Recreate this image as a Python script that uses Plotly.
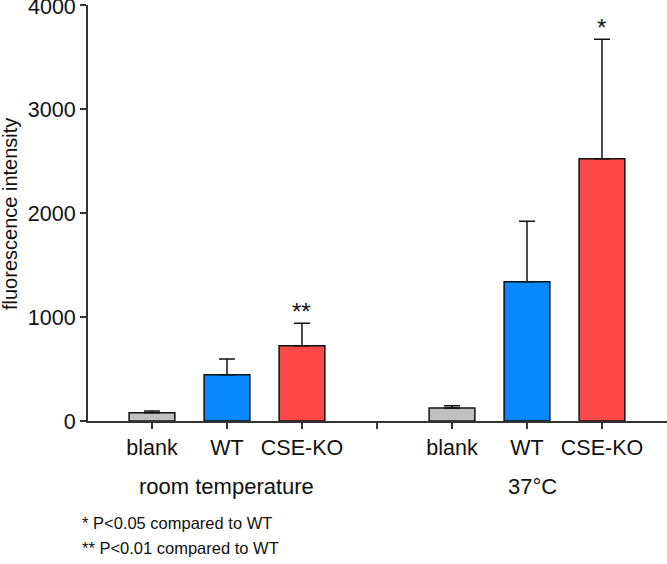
import plotly.graph_objects as go

categories = ["blank", "WT", "CSE-KO"]
groups = ["room temperature", "37°C"]
rt_means = [80, 445, 724]
rt_err = [16, 151, 215]
c37_means = [125, 1339, 2522]
c37_err = [22, 581, 1148]
rt_sig = ["", "", "**"]
c37_sig = ["", "", "*"]
colors = ["#c0c0c0", "#0888ff", "#ff4848"]
y_ticks = [0, 1000, 2000, 3000, 4000]
y_ticktext = ["0", "1000", "2000", "3000", ""]
top_label = "4000"
footnotes = ["* P<0.05 compared to WT", "** P<0.01 compared to WT"]

FONT = "Liberation Sans, Arial, sans-serif"

xpos = [1, 2, 3, 5, 6, 7]
means = rt_means + c37_means
errs = rt_err + c37_err
sigs = rt_sig + c37_sig
labels = categories + categories

fig = go.Figure()
fig.add_trace(go.Bar(
    x=xpos, y=means, width=0.61,
    marker=dict(color=colors + colors, line=dict(color="#111111", width=1.5)),
    error_y=dict(type="data", array=errs, arrayminus=[0] * 6, symmetric=False,
                 color="#111111", thickness=1.5, width=8),
    showlegend=False,
))

annotations = []
for x, m, e, s in zip(xpos, means, errs, sigs):
    if s:
        annotations.append(dict(x=x, y=m + e, xref="x", yref="y", text=s, showarrow=False,
                                yanchor="bottom", yshift=-4, font=dict(size=24, color="#111111", family=FONT)))
for gx, g in zip([2, 6.07], groups):
    annotations.append(dict(x=gx, y=(421 - 486) / 416, xref="x", yref="paper", text=g, showarrow=False,
                            yanchor="middle", font=dict(size=22, color="#111111", family=FONT)))
for i, t in enumerate(footnotes):
    annotations.append(dict(x=(80 - 88) / 579, y=(421 - 523 - 25 * i) / 416, xref="paper", yref="paper",
                            text=t, showarrow=False, xanchor="left", yanchor="middle",
                            font=dict(size=16.5, color="#111111", family=FONT)))
annotations.append(dict(x=(10 - 88) / 579, y=(421 - 214) / 416, xref="paper", yref="paper",
                        text="fluorescence intensity",
                        textangle=-90, showarrow=False, xanchor="center", yanchor="middle",
                        font=dict(size=20, color="#111111", family=FONT)))
annotations.append(dict(x=0, y=y_ticks[-1], xref="paper", yref="y", text=top_label,
                        showarrow=False, xanchor="right", yanchor="middle", xshift=-10, yshift=-2,
                        font=dict(size=21.5, color="#111111", family=FONT)))

axis_common = dict(showline=True, linecolor="#333333", linewidth=2,
                   ticks="outside", ticklen=6, tickwidth=1.5, tickcolor="#333333",
                   showgrid=False, zeroline=False, fixedrange=True, automargin=False,
                   tickfont=dict(size=21.5, color="#111111", family=FONT))

fig.update_layout(
    width=667, height=564,
    margin=dict(l=88, r=0, t=5, b=143, autoexpand=False),
    paper_bgcolor="white", plot_bgcolor="white",
    font=dict(family=FONT, size=18, color="#111111"),
    annotations=annotations,
    xaxis=dict(range=[0.147, 7.867], tickvals=[1, 2, 3, 4, 5, 6, 7],
               ticktext=labels[:3] + [""] + labels[3:], **axis_common),
    yaxis=dict(range=[0, 4000], tickvals=y_ticks, ticktext=y_ticktext, **axis_common),
)

fig.write_html("out.html", config={"displayModeBar": False},
               post_script="document.body.style.margin='0';document.body.style.overflow='hidden';")
